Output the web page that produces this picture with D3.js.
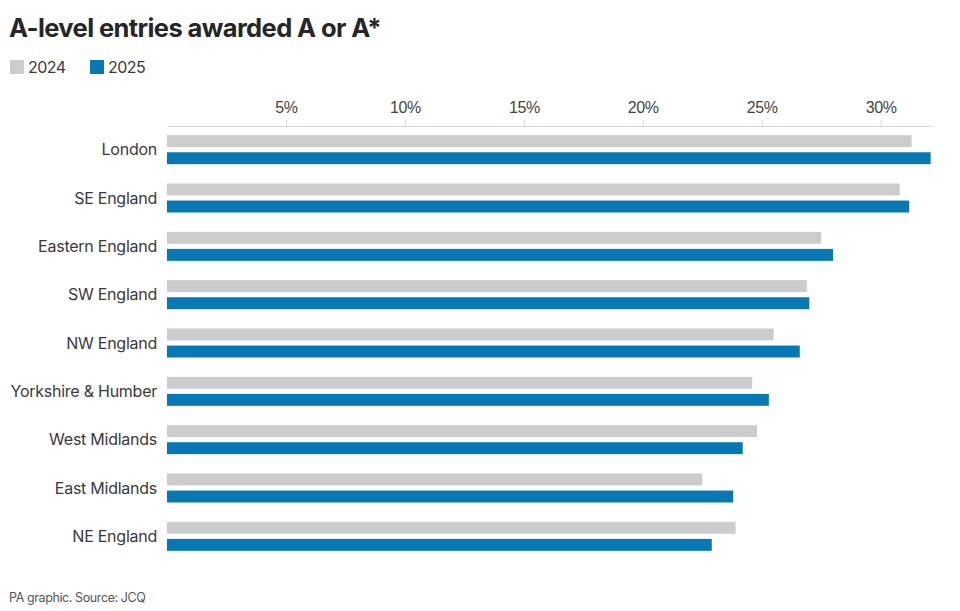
<!DOCTYPE html>
<html>
<head>
<meta charset="utf-8">
<script src="https://cdn.jsdelivr.net/npm/d3@7"></script>
<style>
    body { margin: 0; background: #fff; }
    svg { font-family: Inter, "Noto Sans", sans-serif; display: block; }
    .title { font-size: 25.5px; font-weight: 700; fill: #262626; letter-spacing: -0.6px; }
    .legend text { font-size: 16px; fill: #3a3a3a; letter-spacing: -0.5px; }
    .cat text { font-size: 16px; fill: #3a3a3a; letter-spacing: -0.25px; }
    .axis text { font-size: 16px; fill: #444; letter-spacing: -0.4px; }
    .axis .domain, .axis .tick line { stroke: #d6d6d6; }
    .source { font-size: 12.5px; fill: #555; letter-spacing: -0.4px; }
</style>
</head>
<body>
<svg width="960" height="611"></svg>
<script>
const regions = ["London", "SE England", "Eastern England", "SW England", "NW England",
		 "Yorkshire & Humber", "West Midlands", "East Midlands", "NE England"];
const values2024 = [31.3, 30.8, 27.5, 26.9, 25.5, 24.6, 24.8, 22.5, 23.9];
const values2025 = [32.1, 31.2, 28.0, 27.0, 26.6, 25.3, 24.2, 23.8, 22.9];
const years = ["2024", "2025"];
const tickValues = [5, 10, 15, 20, 25, 30];

window.addEventListener("DOMContentLoaded", draw);

function draw() {
    const svg = d3.select("svg");
    const colours = d3.scaleOrdinal().domain(years).range(["#cccccc", "#0878b5"]);

    /* HEADER
     */
    svg.append("text")
	.attr("class", "title")
	.attr("x", 9)
	.attr("y", 37)
	.text("A-level entries awarded A or A*");

    const legend = svg.append("g").attr("class", "legend");
    const item = legend.selectAll("g")
	  .data(years)
	  .enter().append("g")
	  .attr("transform", (d, i) => `translate(${10 + i * 80},60)`);
    item.append("rect")
	.attr("width", 14)
	.attr("height", 14)
	.attr("fill", (d) => colours(d));
    item.append("text")
	.attr("x", 18)
	.attr("y", 13)
	.text((d) => d);

    /* CHART
     */
    const x = d3.scaleLinear()
	  .domain([0, 32.2])
	  .range([167, 933]);
    const y = d3.scaleBand()
	  .domain(regions)
	  .range([126, 560])
	  .paddingInner(0.4)
	  .paddingOuter(0.19);
    const sub = d3.scaleBand()
	  .domain(years)
	  .range([0, y.bandwidth()])
	  .paddingInner(0.3);

    svg.append("g")
	.attr("class", "axis")
	.attr("transform", "translate(0,126)")
	.call(d3.axisTop(x)
	      .tickValues(tickValues)
	      .tickSize(6)
	      .tickSizeOuter(0)
	      .tickPadding(7)
	      .tickFormat((d) => d + "%"));

    const rows = regions.map((r, i) => ({
	region: r,
	vals: [{year: "2024", v: values2024[i]}, {year: "2025", v: values2025[i]}]
    }));

    const row = svg.selectAll(".row")
	  .data(rows)
	  .enter().append("g")
	  .attr("class", "row")
	  .attr("transform", (d) => `translate(0,${y(d.region)})`);

    row.selectAll("rect")
	.data((d) => d.vals)
	.enter().append("rect")
	.attr("x", x(0))
	.attr("y", (d) => sub(d.year))
	.attr("width", (d) => x(d.v) - x(0))
	.attr("height", sub.bandwidth())
	.attr("fill", (d) => colours(d.year));

    svg.append("g")
	.attr("class", "cat")
	.selectAll("text")
	.data(regions)
	.enter().append("text")
	.attr("x", 157)
	.attr("y", (d) => y(d) + y.bandwidth() / 2)
	.attr("dy", "0.35em")
	.attr("text-anchor", "end")
	.text((d) => d);

    svg.append("text")
	.attr("class", "source")
	.attr("x", 9)
	.attr("y", 602)
	.text("PA graphic. Source: JCQ");
}
</script>
</body>
</html>
